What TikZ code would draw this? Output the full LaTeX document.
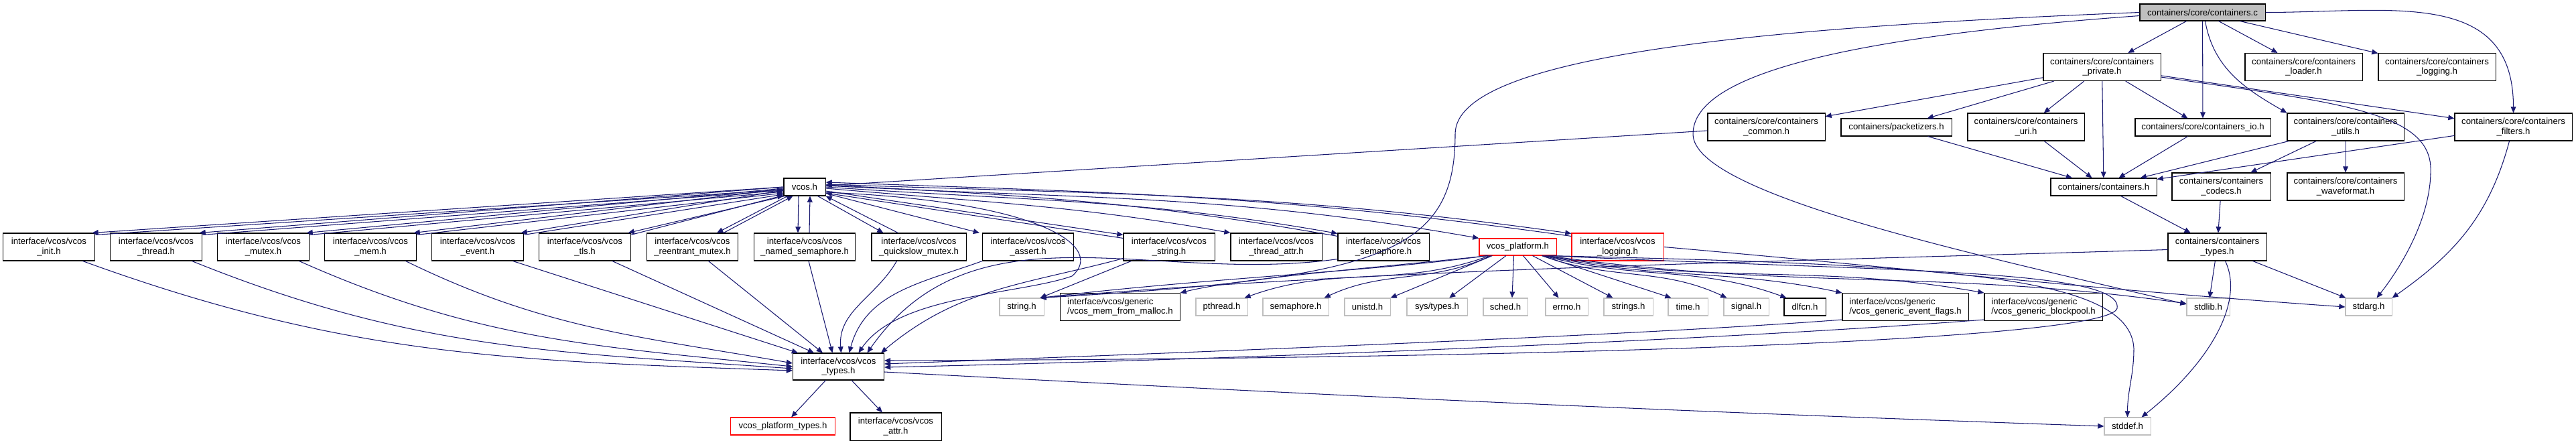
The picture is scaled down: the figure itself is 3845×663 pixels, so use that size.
\documentclass[tikz,border=0pt]{standalone}
\usepackage{fontspec}
\setmainfont{Liberation Sans}
\usetikzlibrary{arrows.meta}
\definecolor{dxblue}{RGB}{25,25,112}
\definecolor{dxgray}{RGB}{191,191,191}
\definecolor{dxred}{RGB}{255,0,0}
\newcommand{\dxfont}{\fontsize{3.75pt}{4.1pt}\selectfont}

\begin{document}
\begin{tikzpicture}[x=0.01cm, y=-0.01cm,
  hbox/.style={rectangle, draw=black, fill=white, line width=0.3pt, inner sep=0pt,
               font=\dxfont, align=center, minimum width=1.36cm, minimum height=0.41cm},
  sbox/.style={hbox, draw=dxgray, minimum height=0.26cm},
  rbox/.style={hbox, draw=dxred},
  inc/.style={-{Triangle[length=2.6pt,width=2.2pt]}, draw=dxblue, line width=0.3pt}
]
\useasboundingbox (0,0) rectangle (3845,663);

% Source file
\node[hbox, fill=dxgray, minimum width=1.87cm, minimum height=0.25cm] (cc) at (3287.5,18.5)
  {containers/core/containers.c};

% containers headers
\node[hbox, minimum width=1.75cm] (priv) at (3137.5,100) {containers/core/containers\\\_private.h};
\node[hbox, minimum width=1.75cm] (load) at (3438.5,100) {containers/core/containers\\\_loader.h};
\node[hbox, minimum width=1.75cm] (clog) at (3637.5,100) {containers/core/containers\\\_logging.h};
\node[hbox, minimum width=1.75cm] (comm) at (2636.5,189.5) {containers/core/containers\\\_common.h};
\node[hbox, minimum width=1.65cm, minimum height=0.26cm] (pkt) at (2830.5,190) {containers/packetizers.h};
\node[hbox, minimum width=1.74cm] (uri) at (3024,189.5) {containers/core/containers\\\_uri.h};
\node[hbox, minimum width=2.02cm, minimum height=0.26cm] (cio) at (3288,190) {containers/core/containers\_io.h};
\node[hbox, minimum width=1.74cm] (util) at (3501,189.5) {containers/core/containers\\\_utils.h};
\node[hbox, minimum width=1.75cm] (filt) at (3751.5,189.5) {containers/core/containers\\\_filters.h};
\node[hbox, minimum width=1.58cm, minimum height=0.26cm] (chdr) at (3140,279) {containers/containers.h};
\node[hbox, minimum width=1.47cm] (codec) at (3315.5,278.5) {containers/containers\\\_codecs.h};
\node[hbox, minimum width=1.74cm] (wave) at (3501,278.5) {containers/core/containers\\\_waveformat.h};
\node[hbox, minimum width=1.47cm] (ctyp) at (3309.5,368.5) {containers/containers\\\_types.h};

% vcos headers
\node[hbox, minimum width=0.62cm, minimum height=0.26cm] (vcos) at (1201,279) {vcos.h};
\node[hbox] (vinit) at (73,368.5) {interface/vcos/vcos\\\_init.h};
\node[hbox] (vthr) at (233,368.5) {interface/vcos/vcos\\\_thread.h};
\node[hbox] (vmtx) at (393,368.5) {interface/vcos/vcos\\\_mutex.h};
\node[hbox] (vmem) at (553,368.5) {interface/vcos/vcos\\\_mem.h};
\node[hbox] (vevt) at (713,368.5) {interface/vcos/vcos\\\_event.h};
\node[hbox] (vtls) at (873,368.5) {interface/vcos/vcos\\\_tls.h};
\node[hbox] (vrmtx) at (1033.5,368.5) {interface/vcos/vcos\\\_reentrant\_mutex.h};
\node[hbox, minimum width=1.50cm] (vnsem) at (1201,368.5) {interface/vcos/vcos\\\_named\_semaphore.h};
\node[hbox, minimum width=1.41cm] (vqmtx) at (1371.5,368.5) {interface/vcos/vcos\\\_quickslow\_mutex.h};
\node[hbox] (vasrt) at (1534.5,368.5) {interface/vcos/vcos\\\_assert.h};
\node[hbox] (vstr) at (1745,368.5) {interface/vcos/vcos\\\_string.h};
\node[hbox] (vtattr) at (1905,368.5) {interface/vcos/vcos\\\_thread\_attr.h};
\node[hbox] (vsem) at (2065,368.5) {interface/vcos/vcos\\\_semaphore.h};
\node[rbox, minimum width=1.15cm, minimum height=0.25cm] (vplat) at (2265.5,368.5) {vcos\_platform.h};
\node[rbox, minimum width=1.37cm] (vlog) at (2414.5,368.5) {interface/vcos/vcos\\\_logging.h};

% system and generic headers
\node[sbox, minimum width=0.66cm] (strh) at (1525,458) {string.h};
\node[hbox, align=left, minimum width=1.78cm] (vmal) at (1672,458) {interface/vcos/generic\\/vcos\_mem\_from\_malloc.h};
\node[sbox, minimum width=0.77cm] (pthr) at (1823.5,458) {pthread.h};
\node[sbox, minimum width=0.98cm] (semh) at (1934,458) {semaphore.h};
\node[sbox, minimum width=0.68cm] (unis) at (2041,458) {unistd.h};
\node[sbox, minimum width=0.90cm] (systy) at (2145,458) {sys/types.h};
\node[sbox, minimum width=0.66cm] (sched) at (2247,458) {sched.h};
\node[sbox, minimum width=0.63cm] (errno) at (2338.5,458) {errno.h};
\node[sbox, minimum width=0.73cm] (strs) at (2430.5,458) {strings.h};
\node[sbox, minimum width=0.59cm] (timeh) at (2519.5,458) {time.h};
\node[sbox, minimum width=0.67cm] (sigh) at (2606.5,458) {signal.h};
\node[hbox, minimum width=0.62cm, minimum height=0.26cm] (dlfcn) at (2694,458) {dlfcn.h};
\node[hbox, align=left, minimum width=1.88cm] (vevf) at (2844,458) {interface/vcos/generic\\/vcos\_generic\_event\_flags.h};
\node[hbox, align=left, minimum width=1.76cm] (vbpl) at (3050,458) {interface/vcos/generic\\/vcos\_generic\_blockpool.h};
\node[sbox, minimum width=0.64cm] (stdlb) at (3296,458) {stdlib.h};
\node[sbox, minimum width=0.69cm] (stdar) at (3535.5,458) {stdarg.h};

% bottom row
\node[hbox, minimum height=0.40cm] (vtyp) at (1251.5,547) {interface/vcos/vcos\\\_types.h};
\node[rbox, minimum width=1.55cm, minimum height=0.26cm] (vptyp) at (1168.5,636) {vcos\_platform\_types.h};
\node[hbox] (vattr) at (1337,636.5) {interface/vcos/vcos\\\_attr.h};
\node[sbox, minimum width=0.69cm] (stdde) at (3175.5,636) {stddef.h};

% containers.c includes
\draw[inc] (cc) -- (priv);
\draw[inc] (cc) -- (cio);
\draw[inc] ([shift={(4,0)}]cc.south) to[out=-80,in=150] (util.north west);
\draw[inc] (cc) -- (load);
\draw[inc] (cc) -- (clog);
\draw[inc] (cc.east) to[out=0,in=90,looseness=1.2] (filt.north);
\draw[inc] (cc.west) .. controls (2650,40) and (2172,80) .. (2172,200)
  .. controls (2172,380) and (2060,415) .. ([shift={(-6,0)}]strh.north east);
\draw[inc] ([shift={(0,5)}]cc.west) .. controls (2760,55) and (2527,110) .. (2527,200)
  .. controls (2527,290) and (2950,380) .. ([shift={(0,-4)}]stdlb.west);

% private includes
\draw[inc] (priv) -- (comm);
\draw[inc] (priv) -- (pkt);
\draw[inc] (priv) -- (uri);
\draw[inc] (priv) -- (chdr);
\draw[inc] (priv) -- (cio);
\draw[inc] (priv) -- (filt);
\draw[inc] ([shift={(0,15)}]priv.east) .. controls (3480,152) and (3625,165) .. (3628,250)
  .. controls (3630,330) and (3575,410) .. ([shift={(12,0)}]stdar.north);

% second level
\draw[inc] (comm) -- (vcos);
\draw[inc] (pkt) -- (chdr);
\draw[inc] (uri) -- (chdr);
\draw[inc] (cio) -- (chdr);
\draw[inc] (util) -- (chdr);
\draw[inc] (util) -- (codec);
\draw[inc] (util) -- (wave);
\draw[inc] (filt) -- (chdr);
\draw[inc] ([shift={(-6,0)}]filt.south) to[out=-105,in=35] (stdar.north east);

% containers_types
\draw[inc] (chdr) -- (ctyp);
\draw[inc] (codec) -- (ctyp);
\draw[inc] (ctyp) -- (stdlb);
\draw[inc] (ctyp) -- (stdar);
\draw[inc] ([shift={(12,0)}]ctyp.south) .. controls (3350,450) and (3300,540) .. ([shift={(-14,0)}]stdde.north east);
\draw[inc] ([shift={(0,4)}]ctyp.west) .. controls (2600,392) and (2100,400) .. ([shift={(-6,0)}]strh.north east);

% vcos.h <-> vcos headers
\draw[inc] (vcos.west) -- ([shift={(-4,0)}]vinit.north east);
\draw[inc] ([shift={(0,3)}]vinit.north east) -- ([shift={(0,4)}]vcos.west);
\draw[inc] (vcos.west) -- ([shift={(-4,0)}]vthr.north east);
\draw[inc] ([shift={(0,3)}]vthr.north east) -- ([shift={(0,5)}]vcos.west);
\draw[inc] ([shift={(0,2)}]vcos.west) -- ([shift={(-4,0)}]vmtx.north east);
\draw[inc] ([shift={(0,3)}]vmtx.north east) -- ([shift={(0,7)}]vcos.west);
\draw[inc] ([shift={(0,3)}]vcos.west) -- ([shift={(-4,0)}]vmem.north east);
\draw[inc] ([shift={(0,3)}]vmem.north east) -- ([shift={(0,9)}]vcos.west);
\draw[inc] ([shift={(0,5)}]vcos.west) -- ([shift={(-4,0)}]vevt.north east);
\draw[inc] ([shift={(0,3)}]vevt.north east) -- ([shift={(0,11)}]vcos.west);
\draw[inc] ([shift={(2,0)}]vcos.south west) -- ([shift={(-4,0)}]vtls.north east);
\draw[inc] ([shift={(0,3)}]vtls.north east) -- ([shift={(0,-1)}]vcos.south west);
\draw[inc] ([shift={(6,0)}]vcos.south west) -- ([shift={(-32,0)}]vrmtx.north east);
\draw[inc] ([shift={(-22,0)}]vrmtx.north east) -- ([shift={(14,0)}]vcos.south west);
\draw[inc] ([shift={(-9,0)}]vcos.south) -- ([shift={(-10,0)}]vnsem.north);
\draw[inc] ([shift={(7,0)}]vnsem.north) -- ([shift={(8,0)}]vcos.south);
\draw[inc] ([shift={(-12,0)}]vcos.south east) -- ([shift={(18,0)}]vqmtx.north west);
\draw[inc] ([shift={(40,0)}]vqmtx.north west) -- (vcos.south east);
\draw[inc] ([shift={(0,-4)}]vcos.south east) -- ([shift={(-4,0)}]vasrt.north west);
\draw[inc] ([shift={(0,6)}]vcos.east) -- ([shift={(0,3)}]vstr.north west);
\draw[inc] ([shift={(0,8)}]vstr.north west) -- ([shift={(0,9)}]vcos.east);
\draw[inc] ([shift={(0,2)}]vcos.east) to[out=-5,in=170] (vtattr.north west);
\draw[inc] (vcos.east) to[out=-4,in=170] ([shift={(0,1)}]vsem.north west);
\draw[inc] ([shift={(0,5)}]vsem.north west) to[out=170,in=-3] ([shift={(0,-3)}]vcos.east);
\draw[inc] ([shift={(0,-2)}]vcos.east) to[out=-3,in=170] (vplat.north west);
\draw[inc] ([shift={(0,-4)}]vcos.east) to[out=-2,in=172] ([shift={(0,1)}]vlog.north west);
\draw[inc] ([shift={(0,5)}]vlog.north west) to[out=172,in=-2] ([shift={(0,-7)}]vcos.east);

% vcos headers -> vcos_types.h
\draw[inc] ([shift={(-18,0)}]vinit.south east) to[out=-20,in=178] ([shift={(0,6)}]vtyp.west);
\draw[inc] ([shift={(-15,0)}]vthr.south east) to[out=-22,in=176] ([shift={(0,3)}]vtyp.west);
\draw[inc] ([shift={(-15,0)}]vmtx.south east) to[out=-24,in=174] (vtyp.west);
\draw[inc] ([shift={(-16,0)}]vmem.south east) to[out=-26,in=170] ([shift={(0,-5)}]vtyp.west);
\draw[inc] ([shift={(-16,0)}]vevt.south east) -- ([shift={(8,0)}]vtyp.north west);
\draw[inc] ([shift={(41,0)}]vtls.south) -- ([shift={(32,0)}]vtyp.north west);
\draw[inc] ([shift={(24,0)}]vrmtx.south) -- ([shift={(45,0)}]vtyp.north west);
\draw[inc] ([shift={(6,0)}]vnsem.south) -- ([shift={(-9,0)}]vtyp.north);
\draw[inc] ([shift={(-33,0)}]vqmtx.south) to[out=-120,in=95] ([shift={(4,0)}]vtyp.north);
\draw[inc] (vasrt.south west) to[out=-160,in=75] ([shift={(16,0)}]vtyp.north);
\draw[inc] ([shift={(0,8)}]vcos.east) .. controls (1560,300) and (1650,370) .. (1600,412)
  .. controls (1520,440) and (1340,440) .. ([shift={(30,0)}]vtyp.north);
\draw[inc] ([shift={(0,-3)}]vsem.south west) to[out=-172,in=55] ([shift={(43,0)}]vtyp.north);
\draw[inc] ([shift={(0,-4)}]vstr.south west) to[out=-165,in=40] ([shift={(-5,0)}]vtyp.north east);
\draw[inc] ([shift={(12,0)}]vstr.south west) -- ([shift={(-6,0)}]strh.north east);

% vcos_platform.h includes
\draw[inc] ([shift={(12,0)}]vplat.south west) .. controls (2050,405) and (1800,415) .. ([shift={(-6,0)}]strh.north east);
\draw[inc] ([shift={(14,0)}]vplat.south west) .. controls (2050,400) and (1850,415) .. (vmal.north east);
\draw[inc] ([shift={(16,0)}]vplat.south west) to[out=-160,in=20] ([shift={(-5,0)}]pthr.north east);
\draw[inc] ([shift={(18,0)}]vplat.south west) to[out=-155,in=25] ([shift={(-7,0)}]semh.north east);
\draw[inc] ([shift={(20,0)}]vplat.south west) -- (unis.north east);
\draw[inc] (vplat) -- (systy);
\draw[inc] ([shift={(-6,0)}]vplat.south) -- ([shift={(10,0)}]sched.north);
\draw[inc] ([shift={(8,0)}]vplat.south) -- ([shift={(-12,0)}]errno.north);
\draw[inc] ([shift={(22,0)}]vplat.south) -- ([shift={(14,0)}]strs.north west);
\draw[inc] ([shift={(-22,0)}]vplat.south east) -- ([shift={(5,0)}]timeh.north west);
\draw[inc] ([shift={(-22,0)}]vplat.south east) to[out=-20,in=155] ([shift={(5,0)}]sigh.north west);
\draw[inc] ([shift={(-20,0)}]vplat.south east) to[out=-15,in=160] ([shift={(4,0)}]dlfcn.north west);
\draw[inc] ([shift={(-18,0)}]vplat.south east) to[out=-12,in=168] (vevf.north west);
\draw[inc] ([shift={(-16,0)}]vplat.south east) to[out=-10,in=170] (vbpl.north west);
\draw[inc] ([shift={(-14,0)}]vplat.south east) to[out=-8,in=172] ([shift={(0,-5)}]stdlb.west);
\draw[inc] ([shift={(-12,0)}]vplat.south east) .. controls (2900,395) and (3180,410) .. (3185,520)
  to[out=-90,in=90] (stdde.north);
\draw[inc] ([shift={(-10,0)}]vplat.south east) .. controls (2800,405) and (3170,400) .. (3160,460)
  .. controls (3150,505) and (2400,535) .. ([shift={(0,-9)}]vtyp.east);
\draw[inc] (vlog.east) to[out=-5,in=176] (stdar.west);

% generic headers and vcos_types.h
\draw[inc] ([shift={(0,-2)}]vevf.south west) .. controls (2450,500) and (1800,525) .. ([shift={(0,-4)}]vtyp.east);
\draw[inc] ([shift={(0,-2)}]vbpl.south west) .. controls (2600,505) and (1900,535) .. ([shift={(0,1)}]vtyp.east);
\draw[inc] ([shift={(0,8)}]vtyp.east) to[out=-3,in=178] (stdde.west);
\draw[inc] (vtyp) -- (vptyp);
\draw[inc] (vtyp) -- (vattr);
\end{tikzpicture}
\end{document}
